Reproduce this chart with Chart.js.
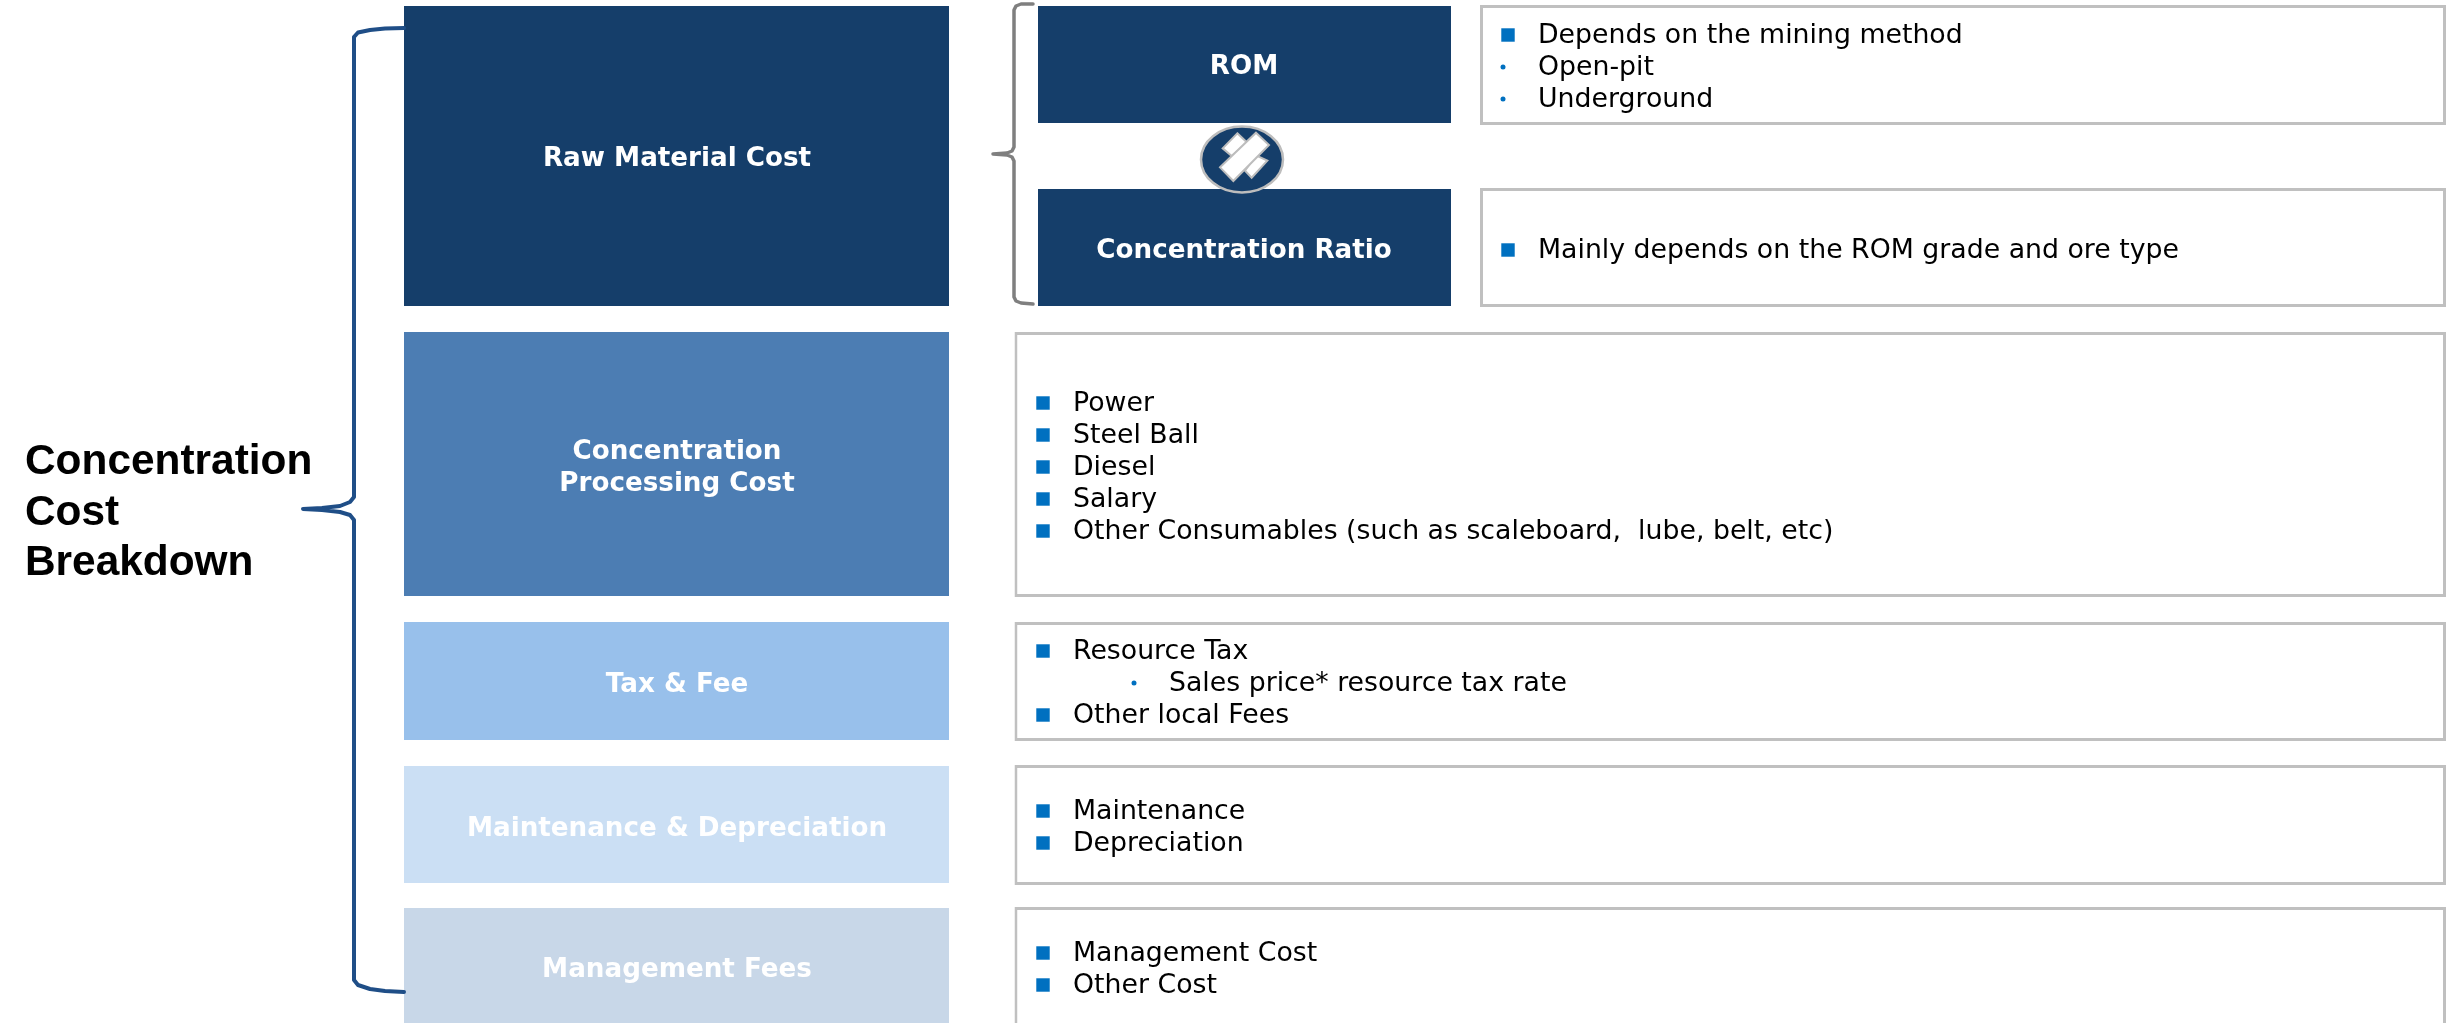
<!DOCTYPE html>
<html>
<head>
<meta charset="utf-8">
<title>Concentration Cost Breakdown</title>
<script src="https://cdn.jsdelivr.net/npm/chart.js@4"></script>
<style>
    html, body { margin: 0; padding: 0; background: #fff; overflow: hidden; }
    canvas { display: block; }
</style>
</head>
<body>
<canvas id="breakdownChart" width="2458" height="1023"></canvas>
<script>
// Cost blocks, left column
const blockLabels = [['Raw Material Cost'], ['Concentration', 'Processing Cost'], ['Tax & Fee'], ['Maintenance & Depreciation'], ['Management Fees']];
const blockTops = [6, 332, 622, 766, 908];
const blockBottoms = [306, 596, 740, 883, 1040];
const blockBaselines = [[166], [459, 491], [692], [836], [977]];

// Raw material sub blocks
const subLabels = ['ROM', 'Concentration Ratio'];
const subTops = [6, 189];
const subBottoms = [123, 306];
const subBaselines = [74, 258];

// Outlined detail boxes, right column
const topBoxTops = [5, 188];
const topBoxBottoms = [125, 307];
const wideBoxTops = [332, 622, 765, 907];
const wideBoxBottoms = [597, 741, 885, 1040];

// Detail text lines
const detailTexts = ['Depends on the mining method', 'Open-pit', 'Underground', 'Mainly depends on the ROM grade and ore type',
    'Power', 'Steel Ball', 'Diesel', 'Salary', 'Other Consumables (such as scaleboard,  lube, belt, etc)',
    'Resource Tax', 'Sales price* resource tax rate', 'Other local Fees',
    'Maintenance', 'Depreciation', 'Management Cost', 'Other Cost'];
const detailBullets = ['square', 'dot', 'dot', 'square', 'square', 'square', 'square', 'square', 'square', 'square', 'dot', 'square', 'square', 'square', 'square', 'square'];
const detailLefts = [1538, 1538, 1538, 1538, 1073, 1073, 1073, 1073, 1073, 1073, 1169, 1073, 1073, 1073, 1073, 1073];
const detailBaselines = [43, 75, 107, 258, 411, 443, 475, 507, 539, 659, 691, 723, 819, 851, 961, 993];

const titleLines = ['Concentration', 'Cost', 'Breakdown'];
const titleBaselines = [474, 525, 575];

// Bracket outlines
const blueBrace = [[404, 28], [385, 28.5], [370, 30], [358, 32.5], [354, 37], [354, 497], [350, 502], [340, 506], [322, 508], [303, 509],
    [322, 510], [340, 512], [350, 515], [354, 520], [354, 980], [358, 985], [370, 989], [385, 991], [404, 992]];
const grayBrace = [[1033, 4], [1021, 4], [1016, 6], [1014, 10], [1014, 147], [1012, 151], [1007, 153], [993, 154],
    [1007, 155], [1012, 157], [1014, 161], [1014, 297], [1016, 301], [1021, 303], [1033, 304]];

const toBars = (center, tops, bottoms) => tops.map((top, i) => ({ x: center, y: [top, bottoms[i]] }));
const toPoints = (pairs) => pairs.map(p => ({ x: p[0], y: p[1] }));

function bulletPoints(kind, offset) {
    const points = [];
    detailBullets.forEach((bullet, i) => {
        if (bullet === kind) {
            points.push({ x: detailLefts[i] - offset, y: detailBaselines[i] - 8 });
        }
    });
    return points;
}

// Text and badge are drawn through the same scales as the bars
const labelPlugin = {
    id: 'diagramLabels',
    afterDatasetsDraw(chart) {
        const ctx = chart.ctx;
        const xs = chart.scales.x;
        const ys = chart.scales.y;

        ctx.save();
        ctx.textBaseline = 'alphabetic';

        // Block labels
        ctx.fillStyle = '#ffffff';
        ctx.font = 'bold 26.2px "DejaVu Sans"';
        ctx.textAlign = 'center';
        blockLabels.forEach((lines, i) => {
            lines.forEach((line, j) => {
                ctx.fillText(line, xs.getPixelForValue(677), ys.getPixelForValue(blockBaselines[i][j]));
            });
        });
        subLabels.forEach((label, i) => {
            ctx.fillText(label, xs.getPixelForValue(1244), ys.getPixelForValue(subBaselines[i]));
        });

        // Detail text
        ctx.fillStyle = '#000000';
        ctx.font = '26.75px "DejaVu Sans"';
        ctx.textAlign = 'left';
        detailTexts.forEach((text, i) => {
            ctx.fillText(text, xs.getPixelForValue(detailLefts[i]), ys.getPixelForValue(detailBaselines[i]));
        });

        // Left title
        ctx.font = 'bold 42.4px "Liberation Sans"';
        titleLines.forEach((line, i) => {
            ctx.fillText(line, xs.getPixelForValue(25), ys.getPixelForValue(titleBaselines[i]));
        });

        // Badge between ROM and Concentration Ratio
        const px = (v) => xs.getPixelForValue(1150 + v / 3);
        const py = (v) => ys.getPixelForValue(130 + v / 3);
        ctx.beginPath();
        ctx.ellipse(xs.getPixelForValue(1242), ys.getPixelForValue(159.5), 41, 33, 0, 0, Math.PI * 2);
        ctx.fillStyle = '#153e6a';
        ctx.fill();
        ctx.lineWidth = 2.5;
        ctx.strokeStyle = '#bdbdbd';
        ctx.stroke();
        const badgeShapes = [
            [[262, 10], [292, 38], [245, 78], [218, 55]],
            [[318, 76], [352, 92], [305, 143], [285, 122]],
            [[318, 8], [357, 45], [250, 153], [210, 112]]
        ];
        ctx.fillStyle = '#ffffff';
        ctx.lineWidth = 2;
        badgeShapes.forEach(shape => {
            ctx.beginPath();
            shape.forEach((p, i) => {
                if (i === 0) {
                    ctx.moveTo(px(p[0]), py(p[1]));
                } else {
                    ctx.lineTo(px(p[0]), py(p[1]));
                }
            });
            ctx.closePath();
            ctx.fill();
            ctx.stroke();
        });
        ctx.restore();
    }
};

new Chart(document.getElementById('breakdownChart'), {
    type: 'bar',
    data: {
        datasets: [
            {
                label: 'Cost blocks',
                data: toBars(676.5, blockTops, blockBottoms),
                barThickness: 545,
                grouped: false,
                backgroundColor: ['#153e6a', '#4c7db3', '#98c0eb', '#cbdff4', '#c8d7e8'],
                inflateAmount: 0,
                order: 3
            },
            {
                label: 'Raw material parts',
                data: toBars(1244.5, subTops, subBottoms),
                barThickness: 413,
                grouped: false,
                backgroundColor: '#153e6a',
                inflateAmount: 0,
                order: 3
            },
            {
                label: 'Raw material details',
                data: toBars(1963, topBoxTops, topBoxBottoms),
                barThickness: 966,
                grouped: false,
                backgroundColor: '#ffffff',
                borderColor: '#c0c0c0',
                borderWidth: 3,
                borderSkipped: false,
                inflateAmount: 0,
                order: 3
            },
            {
                label: 'Cost details',
                data: toBars(1730.25, wideBoxTops, wideBoxBottoms),
                barThickness: 1431.5,
                grouped: false,
                backgroundColor: '#ffffff',
                borderColor: '#c0c0c0',
                borderWidth: 3,
                borderSkipped: false,
                inflateAmount: 0,
                order: 3
            },
            {
                type: 'scatter',
                label: 'Cost brace',
                data: toPoints(blueBrace),
                showLine: true,
                borderColor: '#1f4e87',
                borderWidth: 4,
                borderCapStyle: 'round',
                borderJoinStyle: 'round',
                pointRadius: 0,
                order: 1
            },
            {
                type: 'scatter',
                label: 'Raw material brace',
                data: toPoints(grayBrace),
                showLine: true,
                borderColor: '#7f7f7f',
                borderWidth: 3.5,
                borderCapStyle: 'round',
                borderJoinStyle: 'round',
                pointRadius: 0,
                order: 1
            },
            {
                type: 'scatter',
                label: 'Square bullets',
                data: bulletPoints('square', 30),
                pointStyle: 'rect',
                pointRadius: 9.5,
                pointBorderWidth: 0,
                backgroundColor: '#0070c0',
                order: 1
            },
            {
                type: 'scatter',
                label: 'Dot bullets',
                data: bulletPoints('dot', 35),
                pointStyle: 'circle',
                pointRadius: 2.5,
                pointBorderWidth: 0,
                backgroundColor: '#0070c0',
                order: 1
            }
        ]
    },
    options: {
        responsive: false,
        animation: false,
        layout: { padding: 0, autoPadding: false },
        events: [],
        scales: {
            x: { type: 'linear', min: 0, max: 2458, display: false, offset: false },
            y: { type: 'linear', min: 0, max: 1023, reverse: true, display: false, offset: false }
        },
        plugins: {
            legend: { display: false },
            tooltip: { enabled: false }
        }
    },
    plugins: [labelPlugin]
});
</script>
</body>
</html>
